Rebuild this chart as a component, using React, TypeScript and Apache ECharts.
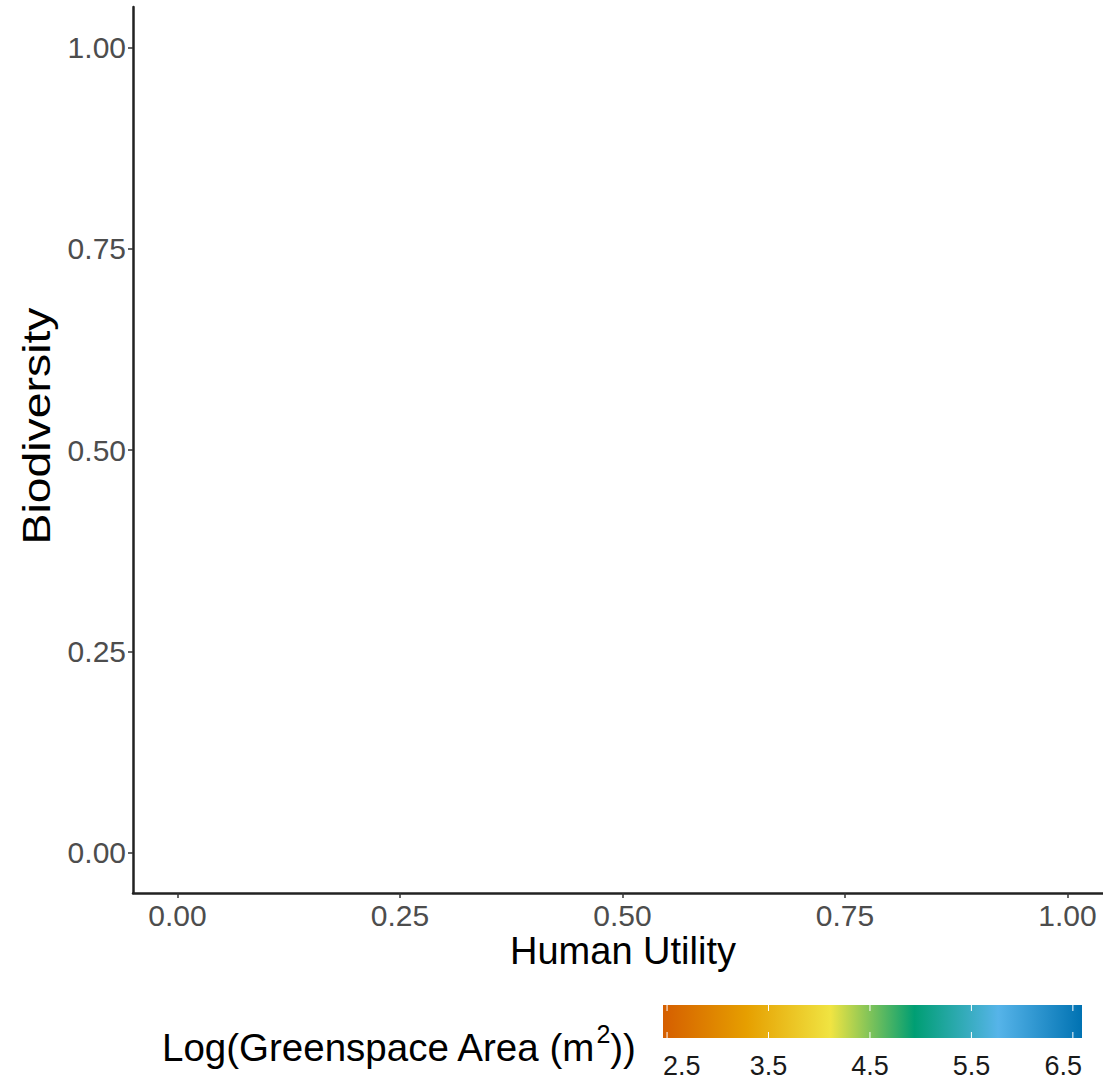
import React, { useEffect, useRef } from "react";
import * as echarts from "echarts";

// ---- data ----
const xTicks = [0, 0.25, 0.5, 0.75, 1];
const yTicks = [0, 0.25, 0.5, 0.75, 1];
const axisMin = -0.05;
const axisMax = 1.05;
const points: number[][] = []; // the panel holds no marks
const xTitle = "Human Utility";
const yTitle = "Biodiversity";
const legendTicks = [2.5, 3.5, 4.5, 5.5, 6.5];
const legendMin = 2.46;
const legendMax = 6.59;
const legendColors = ["#D55E00", "#E69F00", "#F0E442", "#009E73", "#56B4E9", "#0072B2"];

const FONT = "'Liberation Sans', Arial, Helvetica, sans-serif";

export default function App() {
  const ref = useRef<HTMLDivElement>(null);

  useEffect(() => {
    if (!ref.current) return;
    const chart = echarts.init(ref.current, null, { renderer: "svg" });

    const barX0 = 663;
    const barX1 = 1082;
    const barY0 = 1005;
    const barY1 = 1038;
    const toBarX = (v: number) =>
      barX0 + ((v - legendMin) / (legendMax - legendMin)) * (barX1 - barX0);

    const tickMarks: any[] = [];
    const tickLabels: any[] = [];
    legendTicks.forEach((t, i) => {
      const x = toBarX(t);
      tickMarks.push({
        type: "line",
        shape: { x1: x, y1: barY0, x2: x, y2: barY0 + 6 },
        style: { stroke: "#ffffff", lineWidth: 1 },
      });
      tickMarks.push({
        type: "line",
        shape: { x1: x, y1: barY1 - 6, x2: x, y2: barY1 },
        style: { stroke: "#ffffff", lineWidth: 1 },
      });
      const align = i === 0 ? "left" : i === legendTicks.length - 1 ? "right" : "center";
      const lx = i === 0 ? barX0 : i === legendTicks.length - 1 ? barX1 : x;
      tickLabels.push({
        type: "text",
        x: lx,
        y: 1066,
        style: {
          text: t.toFixed(1),
          fontSize: 27,
          fontFamily: FONT,
          fill: "#1a1a1a",
          align,
          verticalAlign: "middle",
        },
      });
    });

    chart.setOption({
      animation: false,
      backgroundColor: "#ffffff",
      grid: { left: 133, top: 7, right: 0, bottom: 189, containLabel: false },
      xAxis: {
        type: "value",
        min: axisMin,
        max: axisMax,
        axisLine: { show: true, onZero: false, lineStyle: { color: "#222222", width: 2.5 } },
        axisTick: {
          show: true,
          customValues: xTicks,
          length: 5,
          lineStyle: { color: "#333333", width: 1.5 },
        },
        axisLabel: {
          customValues: xTicks,
          formatter: (v: number) => v.toFixed(2),
          fontSize: 30,
          fontFamily: FONT,
          color: "#4d4d4d",
          margin: 7,
        },
        splitLine: { show: false },
      },
      yAxis: {
        type: "value",
        min: axisMin,
        max: axisMax,
        axisLine: { show: true, onZero: false, lineStyle: { color: "#222222", width: 2.5 } },
        axisTick: {
          show: true,
          customValues: yTicks,
          length: 5,
          lineStyle: { color: "#333333", width: 1.5 },
        },
        axisLabel: {
          customValues: yTicks,
          formatter: (v: number) => v.toFixed(2),
          fontSize: 30,
          fontFamily: FONT,
          color: "#4d4d4d",
          margin: 7,
        },
        splitLine: { show: false },
      },
      series: [
        {
          type: "scatter",
          data: points,
          symbolSize: 8,
        },
      ],
      graphic: [
        {
          type: "text",
          x: 623,
          y: 951,
          style: {
            text: xTitle,
            fontSize: 38,
            fontFamily: FONT,
            fill: "#000000",
            align: "center",
            verticalAlign: "middle",
          },
        },
        {
          type: "text",
          x: 37,
          y: 426,
          rotation: Math.PI / 2,
          scaleX: 1.22,
          style: {
            text: yTitle,
            fontSize: 38,
            fontFamily: FONT,
            fill: "#000000",
            align: "center",
            verticalAlign: "middle",
          },
        },
        {
          type: "text",
          x: 162,
          y: 1044,
          style: {
            text: "{a|Log(Greenspace Area (m}{s|2}{a|))}",
            fontFamily: FONT,
            fill: "#000000",
            align: "left",
            verticalAlign: "middle",
            rich: {
              a: { fontSize: 38.5, fontFamily: FONT, fill: "#000000", lineHeight: 46, verticalAlign: "bottom" },
              s: { fontSize: 25, fontFamily: FONT, fill: "#000000", lineHeight: 46, verticalAlign: "top" },
            },
          },
        },
        {
          type: "rect",
          shape: { x: barX0, y: barY0, width: barX1 - barX0, height: barY1 - barY0 },
          style: {
            fill: new echarts.graphic.LinearGradient(
              0,
              0,
              1,
              0,
              legendColors.map((c, i) => ({ offset: i / (legendColors.length - 1), color: c }))
            ),
          },
        },
        ...tickMarks,
        ...tickLabels,
      ],
    });

    return () => chart.dispose();
  }, []);

  return (
    <div
      style={{
        position: "absolute",
        left: 0,
        top: 0,
        width: 1103,
        height: 1082,
        overflow: "hidden",
        background: "#ffffff",
      }}
    >
      <div ref={ref} style={{ width: 1112, height: 1082 }} />
    </div>
  );
}
